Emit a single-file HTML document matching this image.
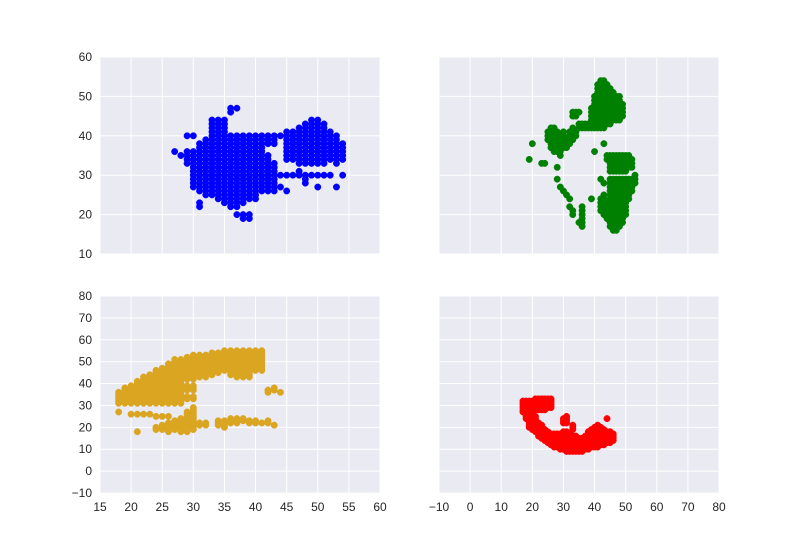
<!DOCTYPE html>
<html><head><meta charset="utf-8"><style>
html,body{margin:0;padding:0;background:#fff;}
svg{display:block;font-family:"Liberation Sans",Arial,sans-serif;}
</style></head><body>
<svg id="chart" width="800" height="550" viewBox="0 0 800 550"></svg>
<script>
// Spans: [x, ymin, ymax] columns of points (1-unit spacing)
const blueSpans=[[27,36,36],[28,35,35],[29,33,36],[29,40,40],[30,27,36],[30,40,40],[31,26,38],[31,22,23],[32,25,39],[33,25,44],[34,24,44],[35,23,44],[36,22,40],[36,46,47],[37,22,40],[37,47,47],[37,20,20],[38,23,40],[38,19,20],[39,24,40],[39,19,20],[40,24,40],[41,26,40],[42,26,35],[42,38,40],[43,26,33],[43,38,40],[44,27,27],[44,30,30],[44,40,40],[45,26,26],[45,30,30],[45,34,41],[46,30,30],[46,34,41],[47,30,31],[47,33,42],[48,28,30],[48,33,43],[49,30,30],[49,33,44],[50,27,27],[50,30,30],[50,33,44],[51,30,30],[51,33,43],[52,30,30],[52,34,41],[53,27,27],[53,33,40],[54,30,30],[54,34,38]];
const greenSpans=[[38,42,43],[39,42,47],[40,42,50],[41,42,53],[42,42,54],[43,42,54],[44,43,53],[45,43,52],[46,44,51],[47,44,50],[48,44,50],[49,45,48],[35,42,43],[36,42,43],[37,42,43],[44,19,23],[44,34,35],[45,17,29],[45,31,35],[46,16,29],[46,31,35],[47,16,29],[47,31,35],[48,17,29],[48,31,35],[49,18,29],[49,31,35],[50,20,29],[50,31,35],[51,24,29],[51,32,35],[52,26,29],[52,32,34],[53,28,30],[42,21,24],[42,29,29],[43,20,25],[43,28,28],[19,34,34],[20,38,38],[23,33,33],[24,33,33],[25,39,41],[26,37,42],[27,36,42],[28,36,41],[28,32,32],[28,29,29],[29,35,40],[29,27,27],[30,37,41],[30,26,26],[31,37,39],[31,25,25],[32,38,41],[32,24,24],[32,22,22],[33,39,42],[33,20,21],[33,45,46],[34,40,41],[34,45,46],[35,46,46],[35,18,18],[36,17,22],[39,24,24],[40,36,36],[43,38,38]];
const goldSpans=[[18,31,36],[18,27,27],[19,31,38],[20,31,39],[20,26,26],[21,31,41],[21,26,26],[21,18,18],[22,31,43],[22,26,26],[23,31,44],[23,26,26],[24,31,46],[24,25,25],[24,19,20],[25,31,47],[25,25,25],[25,19,21],[26,31,49],[26,25,25],[26,18,22],[27,31,51],[27,19,23],[28,31,51],[28,33,34],[28,37,38],[28,18,24],[29,42,52],[29,33,34],[29,37,39],[29,18,27],[30,42,53],[30,33,34],[30,37,39],[30,19,29],[31,43,53],[31,21,22],[32,43,53],[32,21,22],[33,44,54],[34,45,54],[34,21,23],[35,46,55],[35,20,23],[36,44,55],[36,22,24],[37,43,55],[37,22,24],[38,43,55],[38,23,24],[39,43,55],[39,22,23],[40,46,55],[40,22,23],[41,46,55],[41,22,22],[42,22,23],[42,36,37],[43,37,38],[43,21,21],[44,36,36]];
const redSpans=[[17,27,32],[18,24,32],[19,20,32],[20,19,32],[21,18,25],[21,28,33],[22,16,22],[22,28,33],[23,15,21],[23,28,33],[24,14,19],[24,28,33],[25,13,18],[25,29,33],[26,12,17],[26,29,33],[27,11,17],[28,11,17],[29,10,17],[30,10,18],[30,22,24],[31,9,18],[31,22,25],[32,9,17],[33,9,16],[33,19,21],[34,9,16],[35,9,15],[36,9,15],[37,10,16],[38,10,18],[39,11,19],[40,11,20],[41,11,21],[42,12,20],[43,12,19],[44,13,18],[44,24,24],[45,13,18],[46,14,17]];
const leftXTicks=[15,20,25,30,35,40,45,50,55,60];
const rightXTicks=[-10,0,10,20,30,40,50,60,70,80];
const topYTicks=[10,20,30,40,50,60];
const botYTicks=[-10,0,10,20,30,40,50,60,70,80];

const NS='http://www.w3.org/2000/svg';
const svg=document.getElementById('chart');
function mk(t,a,p){const e=document.createElementNS(NS,t);for(const k in a)e.setAttribute(k,a[k]);(p||svg).appendChild(e);return e;}
function lab(v){return v<0?'\u2212'+Math.abs(v):String(v);}
function panel(name,px0,px1,py0,py1,xmin,xmax,ymin,ymax,xt,yt,showX,showY,spans,color){
  const g=mk('g',{});
  
  
  const sx=v=>px0+(v-xmin)/(xmax-xmin)*(px1-px0);
  const sy=v=>py1-(v-ymin)/(ymax-ymin)*(py1-py0);
  const bg=mk('rect',{x:px0,y:py0,width:px1-px0,height:py1-py0,fill:'#EAEAF2'},g);
  
  
  xt.forEach(v=>{const l=mk('line',{x1:sx(v),x2:sx(v),y1:py0,y2:py1,stroke:'#fff','stroke-width':1},g);
    
    if(showX){const t=mk('text',{x:sx(v),y:py1+18,'text-anchor':'middle','font-size':12,fill:'#262626'},g);t.textContent=lab(v);
      }});
  yt.forEach(v=>{const l=mk('line',{x1:px0,x2:px1,y1:sy(v),y2:sy(v),stroke:'#fff','stroke-width':1},g);
    
    if(showY){const t=mk('text',{x:px0-8,y:sy(v)+4,'text-anchor':'end','font-size':12,fill:'#262626'},g);t.textContent=lab(v);
      }});
  const pts=mk('g',{fill:color,stroke:color,'stroke-width':0.5},g);
  
  
  spans.forEach(s=>{for(let y=s[1];y<=s[2];y++){const c=mk('circle',{cx:sx(s[0]),cy:sy(y),r:3.2},pts);
    }});
}
panel('panel-top-left',100,380,57,254,15,60,10,60,leftXTicks,topYTicks,false,true,blueSpans,'#0000FF');
panel('panel-top-right',439,719,57,254,-10,80,10,60,rightXTicks,topYTicks,false,false,greenSpans,'#008000');
panel('panel-bottom-left',100,380,296,493,15,60,-10,80,leftXTicks,botYTicks,true,true,goldSpans,'#DAA520');
panel('panel-bottom-right',439,719,296,493,-10,80,-10,80,rightXTicks,botYTicks,true,false,redSpans,'#FF0000');
</script>
</body></html>
